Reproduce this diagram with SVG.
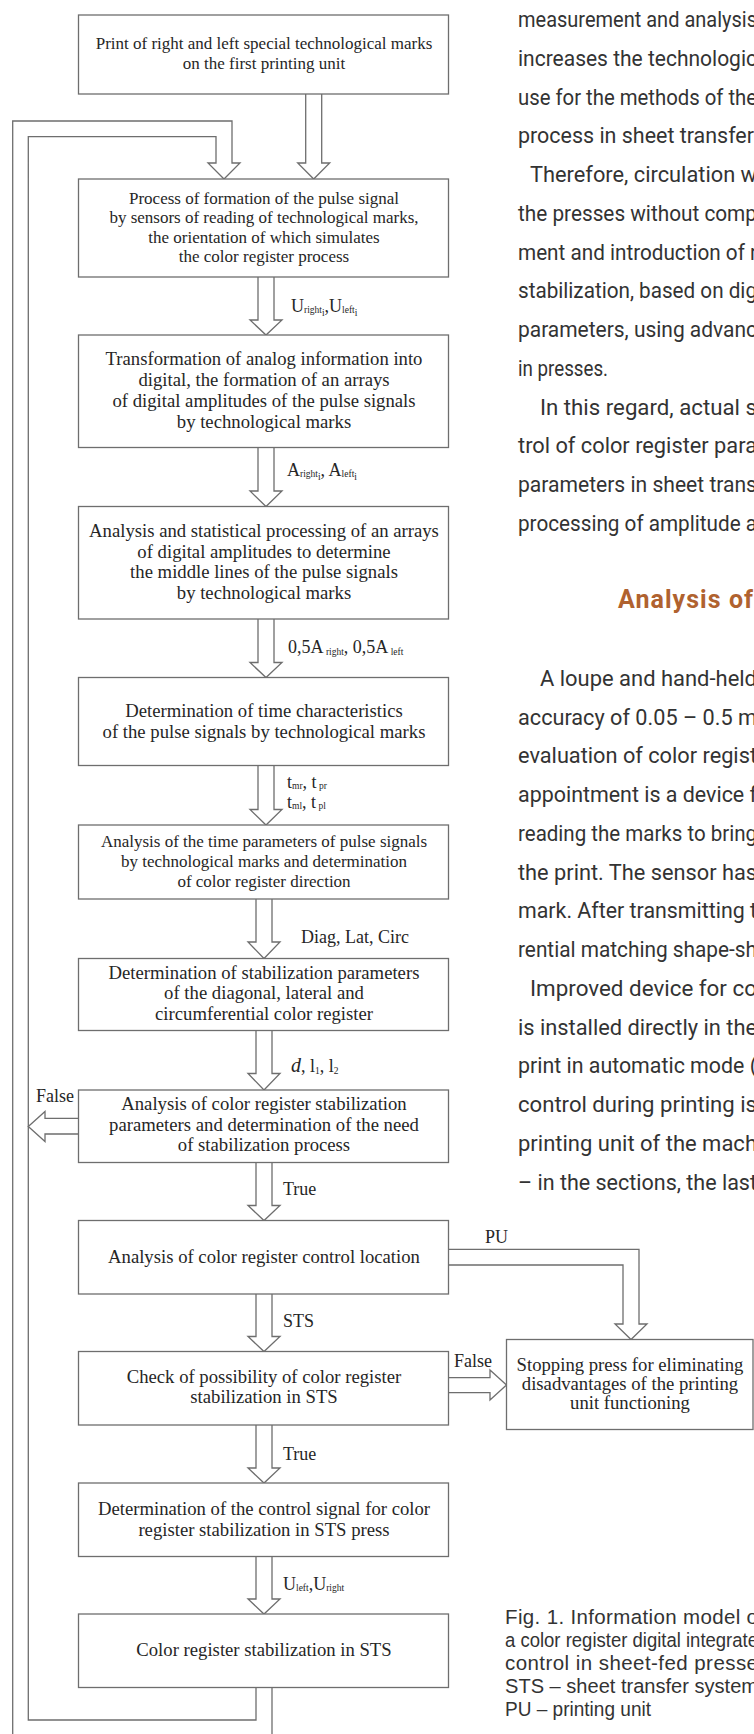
<svg xmlns="http://www.w3.org/2000/svg" width="754" height="1734" viewBox="0 0 754 1734">
<style>
.box{fill:#fff;stroke:#6e6e6e;stroke-width:1.3}
.arr{fill:#fff;stroke:#6e6e6e;stroke-width:1.3}
.ln{fill:none;stroke:#6e6e6e;stroke-width:1.3}
.t{font-family:"Liberation Serif","Times New Roman",serif;fill:#262626;text-anchor:middle}
.s17{font-size:17px}
.s19{font-size:18.7px}
.lbl{font-family:"Liberation Serif","Times New Roman",serif;font-size:18px;fill:#262626}
.sub{font-size:9.5px}
.body{font-family:Roboto,"Liberation Sans",sans-serif;font-size:21.5px;fill:#333}
.cap{font-family:"Liberation Sans",Arial,sans-serif;font-size:20.5px;fill:#333}
.head{font-family:Roboto,"Liberation Sans",sans-serif;font-weight:bold;font-size:25px;fill:#b0622f}
</style>
<rect width="754" height="1734" fill="#fff"/>

<g id="connectors">
<path class="arr" d="M305.7,94 V163 H297.7 L313.7,179 L329.7,163 H321.7 V94"/>
<path class="arr" d="M12.7,1734 V121 H232 V163 H240 L224,179 L208,163 H216 V136.7 H28.3 V1720 H256 V1687.5"/>
<path class="ln" d="M272,1687.5 V1734"/>
<path class="arr" d="M258,277 V320 H250 L266,335 L282,320 H274 V277"/>
<path class="arr" d="M258,447.5 V491 H250 L266,506.5 L282,491 H274 V447.5"/>
<path class="arr" d="M258,619 V662.5 H250 L266,677.5 L282,662.5 H274 V619"/>
<path class="arr" d="M258,765.5 V809.5 H250 L266,825 L282,809.5 H274 V765.5"/>
<path class="arr" d="M256,899 V942 H248 L264,958.5 L280,942 H272 V899"/>
<path class="arr" d="M256,1030.5 V1073.5 H248 L264,1090 L280,1073.5 H272 V1030.5"/>
<path class="arr" d="M256,1162.5 V1205.5 H248 L264,1220.5 L280,1205.5 H272 V1162.5"/>
<path class="arr" d="M256,1294 V1336.5 H248 L264,1351.5 L280,1336.5 H272 V1294"/>
<path class="arr" d="M256,1425 V1468 H248 L264,1483 L280,1468 H272 V1425"/>
<path class="arr" d="M256,1556.5 V1599 H248 L264,1614 L280,1599 H272 V1556.5"/>
<path class="arr" d="M78.5,1118.3 H45 V1111.5 L28.3,1126.5 L45,1141.5 V1134 H78.5"/>
<path class="arr" d="M448.5,1249.3 H639 V1324 H647 L631,1339.5 L615,1324 H623 V1265 H448.5"/>
<path class="arr" d="M448.5,1377.7 H490 V1370 L506.5,1385 L490,1400 V1392.7 H448.5"/>

<text class="lbl" x="291" y="312">U<tspan class="sub" dy="1">right</tspan><tspan class="sub" dy="3">i</tspan><tspan dy="-4">,U</tspan><tspan class="sub" dy="1">left</tspan><tspan class="sub" dy="3">i</tspan></text>
<text class="lbl" x="287" y="476">A<tspan class="sub" dy="1">right</tspan><tspan class="sub" dy="3">i</tspan><tspan dy="-4">, A</tspan><tspan class="sub" dy="1">left</tspan><tspan class="sub" dy="3">i</tspan></text>
<text class="lbl" x="288" y="653">0,5A<tspan class="sub" dy="2"> right</tspan><tspan dy="-2">, 0,5A</tspan><tspan class="sub" dy="2"> left</tspan></text>
<text class="lbl" x="287" y="788">t<tspan class="sub" dy="1">mr</tspan><tspan dy="-1">, t</tspan><tspan class="sub" dy="1"> pr</tspan></text>
<text class="lbl" x="287" y="808">t<tspan class="sub" dy="1">ml</tspan><tspan dy="-1">, t</tspan><tspan class="sub" dy="1"> pl</tspan></text>
<text class="lbl" x="301" y="943">Diag, Lat, Circ</text>
<text class="lbl" x="291" y="1072"><tspan font-style="italic" font-size="20">d</tspan>, l<tspan class="sub" dy="2">1</tspan><tspan dy="-2">, l</tspan><tspan class="sub" dy="2">2</tspan></text>
<text class="lbl" x="36" y="1102">False</text>
<text class="lbl" x="283" y="1195">True</text>
<text class="lbl" x="485" y="1243">PU</text>
<text class="lbl" x="283" y="1327">STS</text>
<text class="lbl" x="454" y="1367">False</text>
<text class="lbl" x="283" y="1460">True</text>
<text class="lbl" x="283" y="1590">U<tspan class="sub" dy="1">left</tspan><tspan dy="-1">,U</tspan><tspan class="sub" dy="1">right</tspan></text>
</g>

<g id="n1"><rect class="box" x="78.5" y="15" width="370" height="79"/>
<text class="t s17" x="264" y="49.3">Print of right and left special technological marks</text>
<text class="t s17" x="264" y="69">on the first printing unit</text></g>

<g id="n2"><rect class="box" x="78.5" y="179" width="370" height="98"/>
<text class="t s17" x="264" y="204">Process of formation of the pulse signal</text>
<text class="t s17" x="264" y="223.3">by sensors of reading of technological  marks,</text>
<text class="t s17" x="264" y="242.5">the orientation of which simulates</text>
<text class="t s17" x="264" y="261.7">the color register process</text></g>

<g id="n3"><rect class="box" x="78.5" y="335" width="370" height="112.5"/>
<text class="t s19" x="264" y="364.8">Transformation of analog information into</text>
<text class="t s19" x="264" y="385.7">digital, the formation of an arrays</text>
<text class="t s19" x="264" y="406.6">of digital amplitudes of the pulse signals</text>
<text class="t s19" x="264" y="427.5">by technological marks</text></g>

<g id="n4"><rect class="box" x="78.5" y="506.5" width="370" height="112.5"/>
<text class="t s19" x="264" y="536.5">Analysis and statistical processing of an arrays</text>
<text class="t s19" x="264" y="557.5">of digital amplitudes to determine</text>
<text class="t s19" x="264" y="578.3">the middle lines of the pulse signals</text>
<text class="t s19" x="264" y="599">by technological marks</text></g>

<g id="n5"><rect class="box" x="78.5" y="677.5" width="370" height="88"/>
<text class="t s19" x="264" y="716.5">Determination of time characteristics</text>
<text class="t s19" x="264" y="737.5">of the pulse signals by technological marks</text></g>

<g id="n6"><rect class="box" x="78.5" y="825" width="370" height="74"/>
<text class="t s17" x="264" y="847.3">Analysis of the time parameters of pulse signals</text>
<text class="t s17" x="264" y="867.3">by technological marks and determination</text>
<text class="t s17" x="264" y="887.3">of color register direction</text></g>

<g id="n7"><rect class="box" x="78.5" y="958.5" width="370" height="72"/>
<text class="t s19" x="264" y="978.5">Determination of stabilization parameters</text>
<text class="t s19" x="264" y="999.2">of the diagonal, lateral and</text>
<text class="t s19" x="264" y="1019.9">circumferential color register</text></g>

<g id="n8"><rect class="box" x="78.5" y="1090" width="370" height="72.5"/>
<text class="t s19" x="264" y="1109.8">Analysis of color register stabilization</text>
<text class="t s19" x="264" y="1130.5">parameters and determination of the need</text>
<text class="t s19" x="264" y="1151.2">of stabilization process</text></g>

<g id="n9"><rect class="box" x="78.5" y="1220.5" width="370" height="73.5"/>
<text class="t s19" x="264" y="1262.5">Analysis of color register control location</text></g>

<g id="n10"><rect class="box" x="78.5" y="1351.5" width="370" height="73.5"/>
<text class="t s19" x="264" y="1382.5">Check of possibility of color register</text>
<text class="t s19" x="264" y="1403.2">stabilization in STS</text></g>

<g id="n11"><rect class="box" x="78.5" y="1483" width="370" height="73.5"/>
<text class="t s19" x="264" y="1515">Determination of the control signal for color</text>
<text class="t s19" x="264" y="1535.7">register stabilization in STS press</text></g>

<g id="n12"><rect class="box" x="78.5" y="1614" width="370" height="73.5"/>
<text class="t s19" x="264" y="1656">Color register stabilization in STS</text></g>

<g id="n13"><rect class="box" x="506.5" y="1339.5" width="246.5" height="90"/>
<text class="t s19" x="630" y="1371">Stopping press for eliminating</text>
<text class="t s19" x="630" y="1390.2">disadvantages of the printing</text>
<text class="t s19" x="630" y="1409.2">unit functioning</text></g>

<g id="text-column" class="body">
<text x="518" y="27" textLength="239" lengthAdjust="spacingAndGlyphs">measurement and analysis</text>
<text x="518" y="65.75" textLength="239" lengthAdjust="spacingAndGlyphs">increases the technologic</text>
<text x="518" y="104.5" textLength="239" lengthAdjust="spacingAndGlyphs">use for the methods of the</text>
<text x="518" y="143.25" textLength="236" lengthAdjust="spacingAndGlyphs">process in sheet transfer</text>
<text x="530" y="182" textLength="227" lengthAdjust="spacingAndGlyphs">Therefore, circulation w</text>
<text x="518" y="220.75" textLength="239" lengthAdjust="spacingAndGlyphs">the presses without comp</text>
<text x="518" y="259.5" textLength="239" lengthAdjust="spacingAndGlyphs">ment and introduction of r</text>
<text x="518" y="298.25" textLength="239" lengthAdjust="spacingAndGlyphs">stabilization, based on dig</text>
<text x="518" y="337" textLength="239" lengthAdjust="spacingAndGlyphs">parameters, using advanc</text>
<text x="518" y="375.75" textLength="90" lengthAdjust="spacingAndGlyphs">in presses.</text>
<text x="540" y="414.5" textLength="217" lengthAdjust="spacingAndGlyphs">In this regard, actual s</text>
<text x="518" y="453.25" textLength="239" lengthAdjust="spacingAndGlyphs">trol of color register para</text>
<text x="518" y="492" textLength="239" lengthAdjust="spacingAndGlyphs">parameters in sheet trans</text>
<text x="518" y="530.75" textLength="239" lengthAdjust="spacingAndGlyphs">processing of amplitude a</text>
<text class="head" x="618" y="608.25" textLength="135" lengthAdjust="spacing">Analysis of</text>
<text x="540" y="685.75" textLength="217" lengthAdjust="spacingAndGlyphs">A loupe and hand-held</text>
<text x="518" y="724.5" textLength="239" lengthAdjust="spacingAndGlyphs">accuracy of 0.05 – 0.5 m</text>
<text x="518" y="763.25" textLength="239" lengthAdjust="spacingAndGlyphs">evaluation of color regist</text>
<text x="518" y="802" textLength="239" lengthAdjust="spacingAndGlyphs">appointment is a device f</text>
<text x="518" y="840.75" textLength="239" lengthAdjust="spacingAndGlyphs">reading the marks to bring</text>
<text x="518" y="879.5" textLength="239" lengthAdjust="spacingAndGlyphs">the print. The sensor has</text>
<text x="518" y="918.25" textLength="239" lengthAdjust="spacingAndGlyphs">mark. After transmitting t</text>
<text x="518" y="957" textLength="239" lengthAdjust="spacingAndGlyphs">rential matching shape-sh</text>
<text x="530" y="995.75" textLength="227" lengthAdjust="spacingAndGlyphs">Improved device for co</text>
<text x="518" y="1034.5" textLength="239" lengthAdjust="spacingAndGlyphs">is installed directly in the</text>
<text x="518" y="1073.25" textLength="239" lengthAdjust="spacingAndGlyphs">print in automatic mode (</text>
<text x="518" y="1112" textLength="239" lengthAdjust="spacingAndGlyphs">control during printing is</text>
<text x="518" y="1150.75" textLength="239" lengthAdjust="spacingAndGlyphs">printing unit of the mach</text>
<text x="518" y="1189.5" textLength="239" lengthAdjust="spacingAndGlyphs">– in the sections, the last</text>
</g>

<g id="caption" class="cap">
<text x="505" y="1624" textLength="253" lengthAdjust="spacing">Fig. 1. Information model o</text>
<text x="505" y="1647" textLength="253" lengthAdjust="spacingAndGlyphs">a color register digital integrate</text>
<text x="505" y="1670" textLength="253" lengthAdjust="spacing">control in sheet-fed presse</text>
<text x="505" y="1693" textLength="253" lengthAdjust="spacingAndGlyphs">STS – sheet transfer system</text>
<text x="505" y="1716" textLength="146" lengthAdjust="spacingAndGlyphs">PU – printing unit</text>
</g>
</svg>
